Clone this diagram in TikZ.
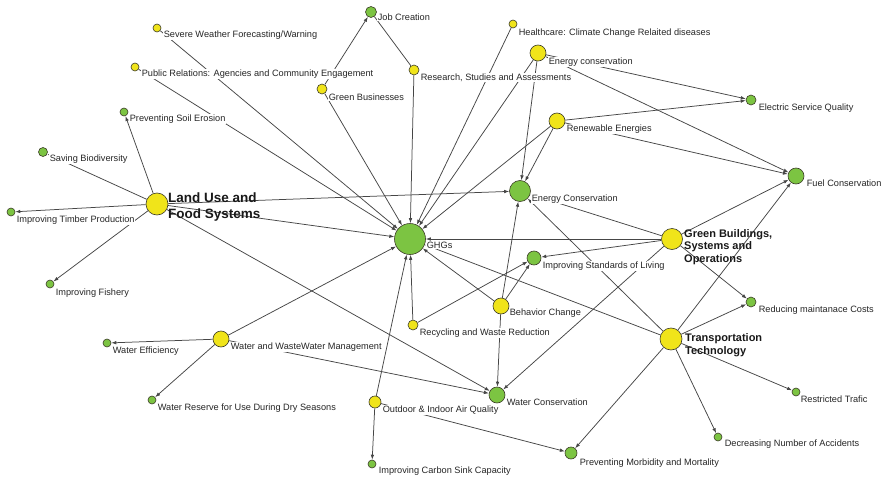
\documentclass[tikz,border=0pt]{standalone}
\usepackage{fontspec}
\setmainfont{Liberation Sans}
\usetikzlibrary{arrows.meta}
\definecolor{nodeyellow}{RGB}{240,228,26}
\definecolor{nodegreen}{RGB}{124,196,66}
\definecolor{edgegray}{RGB}{70,70,70}
\definecolor{rimgray}{RGB}{60,60,40}
\pgfdeclarelayer{paper}
\pgfdeclarelayer{edges}
\pgfsetlayers{paper,edges,main}
\tikzset{
  ylw/.style={circle, fill=nodeyellow, draw=rimgray, line width=0.6pt, inner sep=0pt},
  grn/.style={circle, fill=nodegreen, draw=rimgray, line width=0.6pt, inner sep=0pt},
  lbltext/.style={anchor=base west, fill=white, inner sep=0.6pt, text=black!85,
    font=\fontsize{9.2}{11}\selectfont},
  hubtext/.style={anchor=north west, inner sep=0pt, align=left, text=black!90},
  link/.style={draw=edgegray, line width=0.75pt, -{Latex[length=5pt,width=3.6pt]}},
  plainlink/.style={draw=edgegray, line width=0.75pt}
}
\begin{document}
\begin{tikzpicture}[x=1pt,y=-1pt]
\begin{pgfonlayer}{paper}
\fill[white] (0,0) rectangle (884,479);
\end{pgfonlayer}
\useasboundingbox (0,0) rectangle (884,479);

% ---- concept nodes ----
\node[ylw, minimum size=8pt]  (sev)    at (157,28)  {};
\node[ylw, minimum size=8pt]  (pub)    at (135,67)  {};
\node[grn, minimum size=8pt]  (soil)   at (124,112) {};
\node[grn, minimum size=9pt]  (bio)    at (43,152)  {};
\node[grn, minimum size=8pt]  (timber) at (11,212)  {};
\node[grn, minimum size=8pt]  (fish)   at (50,284)  {};
\node[ylw, minimum size=22pt] (lu)     at (157,204) {};
\node[grn, minimum size=11pt] (job)    at (371,12)  {};
\node[ylw, minimum size=10pt] (gbz)    at (322,89)  {};
\node[ylw, minimum size=10pt] (res)    at (414,70)  {};
\node[ylw, minimum size=8pt]  (hc)     at (513,24)  {};
\node[ylw, minimum size=16pt] (econ)   at (538,53)  {};
\node[ylw, minimum size=16pt] (ren)    at (557,121) {};
\node[grn, minimum size=10pt] (esq)    at (751,100) {};
\node[grn, minimum size=16pt] (fuel)   at (796,176) {};
\node[grn, minimum size=21pt] (ec)     at (520,191) {};
\node[grn, minimum size=31pt] (ghg)    at (410,239) {};
\node[ylw, minimum size=21pt] (gb)     at (672,239) {};
\node[grn, minimum size=14pt] (isl)    at (534,258) {};
\node[ylw, minimum size=16pt] (bc)     at (501,306) {};
\node[ylw, minimum size=10pt] (rec)    at (413,325) {};
\node[grn, minimum size=10pt] (rmc)    at (751,302) {};
\node[ylw, minimum size=22pt] (tt)     at (671,339) {};
\node[ylw, minimum size=16pt] (wwm)    at (221,339) {};
\node[grn, minimum size=8pt]  (we)     at (107,343) {};
\node[grn, minimum size=8pt]  (wr)     at (152,400) {};
\node[grn, minimum size=16pt] (wc)     at (497,395) {};
\node[ylw, minimum size=12pt] (oaq)    at (375,402) {};
\node[grn, minimum size=8pt]  (cs)     at (372,464) {};
\node[grn, minimum size=12pt] (pmm)    at (571,453) {};
\node[grn, minimum size=8pt]  (rt)     at (796,392) {};
\node[grn, minimum size=8pt]  (dna)    at (718,437) {};

% ---- connections ----
\begin{pgfonlayer}{edges}
\draw[link] (lu) -- (soil);
\draw[link] (lu) -- (bio);
\draw[link] (lu) -- (timber);
\draw[link] (lu) -- (fish);
\draw[link] (lu) -- (ec);
\draw[link] (lu) -- (ghg);
\draw[link] (lu) -- (wc);
\draw[link] (sev) -- (ghg);
\draw[link] (pub) -- (ghg);
\draw[link] (gbz) -- (job);
\draw[link] (gbz) -- (ghg);
\draw[plainlink] (res) -- (job);
\draw[link] (res) -- (ghg);
\draw[link] (hc) -- (ghg);
\draw[link] (econ) -- (ghg);
\draw[link] (econ) -- (ec);
\draw[link] (econ) -- (esq);
\draw[link] (econ) -- (fuel);
\draw[link] (ren) -- (ghg);
\draw[link] (ren) -- (ec);
\draw[link] (ren) -- (esq);
\draw[link] (ren) -- (fuel);
\draw[link] (gb) -- (ec);
\draw[link] (gb) -- (ghg);
\draw[link] (gb) -- (isl);
\draw[link] (gb) -- (fuel);
\draw[link] (gb) -- (rmc);
\draw[link] (gb) -- (wc);
\draw[link] (tt) -- (ec);
\draw[link] (tt) -- (ghg);
\draw[link] (tt) -- (fuel);
\draw[link] (tt) -- (rmc);
\draw[link] (tt) -- (rt);
\draw[link] (tt) -- (dna);
\draw[link] (tt) -- (pmm);
\draw[link] (bc) -- (ec);
\draw[link] (bc) -- (isl);
\draw[link] (bc) -- (ghg);
\draw[link] (bc) -- (wc);
\draw[link] (rec) -- (isl);
\draw[link] (rec) -- (ghg);
\draw[link] (wwm) -- (ghg);
\draw[link] (wwm) -- (we);
\draw[link] (wwm) -- (wr);
\draw[link] (wwm) -- (wc);
\draw[link] (oaq) -- (ghg);
\draw[link] (oaq) -- (cs);
\draw[link] (oaq) -- (pmm);
\end{pgfonlayer}

% ---- labels ----
\node[lbltext] (t-sev)    at (163,37.5)  {Severe Weather Forecasting/Warning};
\node[lbltext] (t-pub)    at (141,76.5)  {Public Relations: Agencies and Community Engagement};
\node[lbltext] (t-soil)   at (129,121.5) {Preventing Soil Erosion};
\node[lbltext] (t-bio)    at (49,161.5)  {Saving Biodiversity};
\node[lbltext] (t-timber) at (16,222.5)  {Improving Timber Production};
\node[lbltext] (t-fish)   at (55,295)    {Improving Fishery};
\node[lbltext] (t-job)    at (377,20.5)  {Job Creation};
\node[lbltext] (t-gbz)    at (328,100)   {Green Businesses};
\node[lbltext] (t-res)    at (420,80.5)  {Research, Studies and Assessments};
\node[lbltext] (t-hc)     at (518,35)    {Healthcare: Climate Change Relaited diseases};
\node[lbltext] (t-econ)   at (548,64.5)  {Energy conservation};
\node[lbltext] (t-ren)    at (566,131.5) {Renewable Energies};
\node[lbltext] (t-esq)    at (758,110.5) {Electric Service Quality};
\node[lbltext] (t-fuel)   at (806,186.5) {Fuel Conservation};
\node[lbltext] (t-ec)     at (531,201)   {Energy Conservation};
\node[lbltext] (t-ghg)    at (426,248.5) {GHGs};
\node[lbltext] (t-isl)    at (542,268.5) {Improving Standards of Living};
\node[lbltext] (t-bc)     at (509,315.5) {Behavior Change};
\node[lbltext] (t-rec)    at (419,335.5) {Recycling and Waste Reduction};
\node[lbltext] (t-rmc)    at (758,312.5) {Reducing maintanace Costs};
\node[lbltext] (t-wwm)    at (230,349.5) {Water and WasteWater Management};
\node[lbltext] (t-we)     at (112,353.5) {Water Efficiency};
\node[lbltext] (t-wr)     at (157,410)   {Water Reserve for Use During Dry Seasons};
\node[lbltext] (t-wc)     at (506,405.5) {Water Conservation};
\node[lbltext] (t-oaq)    at (382,412)   {Outdoor \& Indoor Air Quality};
\node[lbltext] (t-cs)     at (378,473.5) {Improving Carbon Sink Capacity};
\node[lbltext] (t-pmm)    at (579,465)   {Preventing Morbidity and Mortality};
\node[lbltext] (t-rt)     at (800,402.5) {Restricted Trafic};
\node[lbltext] (t-dna)    at (724,446.5) {Decreasing Number of Accidents};

\node[hubtext, font=\fontsize{13.5}{15.5}\selectfont\bfseries] (t-lu) at (168,193)
  {Land Use and\\Food Systems};
\node[hubtext, font=\fontsize{11}{12.5}\selectfont\bfseries] (t-gb) at (684,229)
  {Green Buildings,\\Systems and\\Operations};
\node[hubtext, font=\fontsize{11}{13}\selectfont\bfseries] (t-tt) at (685,333)
  {Transportation\\Technology};
\end{tikzpicture}
\end{document}
